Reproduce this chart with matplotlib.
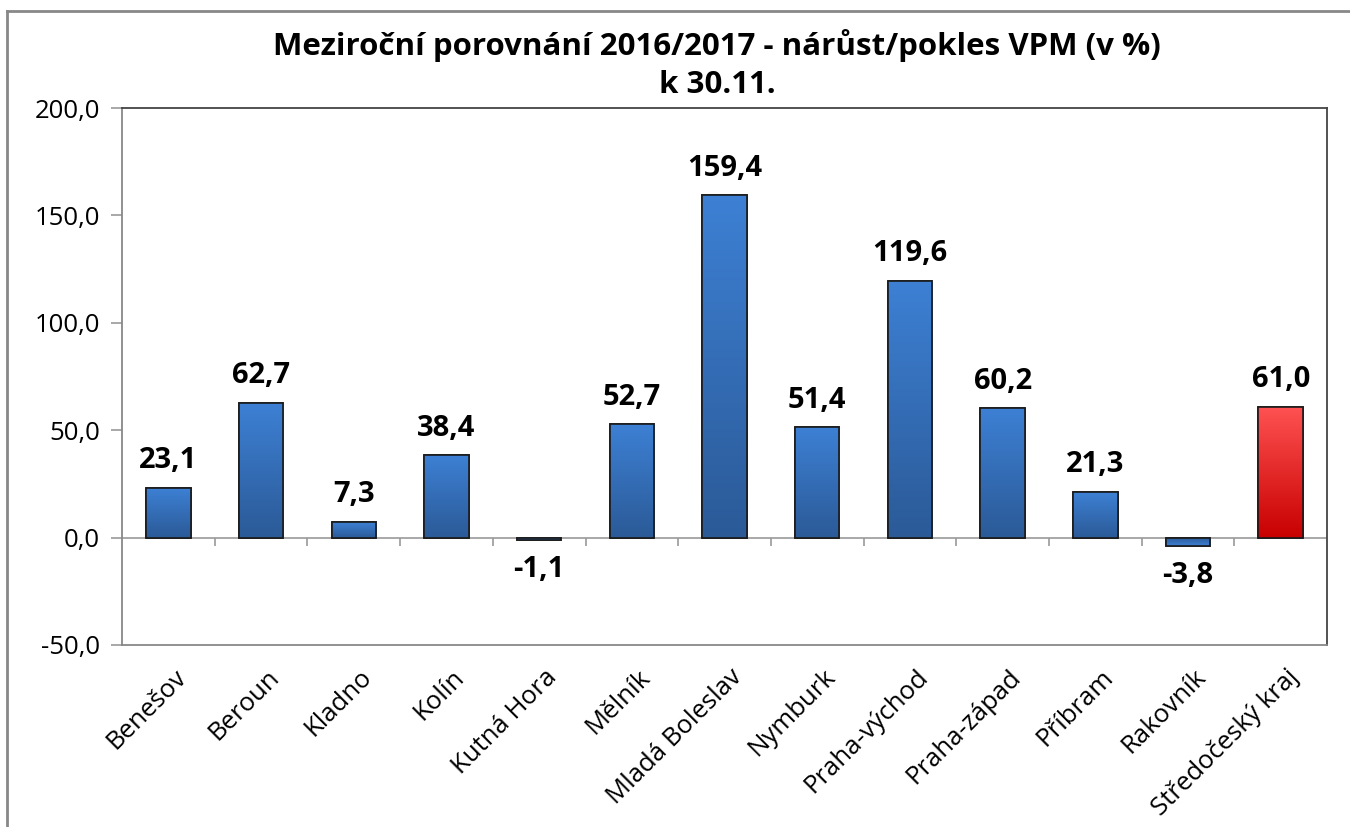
import numpy as np
import matplotlib.pyplot as plt
from matplotlib.lines import Line2D
from matplotlib.colors import LinearSegmentedColormap

plt.rcParams['font.family'] = ['Open Sans', 'DejaVu Sans']

# data
okresy = ['Benešov', 'Beroun', 'Kladno', 'Kolín', 'Kutná Hora', 'Mělník',
          'Mladá Boleslav', 'Nymburk', 'Praha-východ', 'Praha-západ',
          'Příbram', 'Rakovník', 'Středočeský kraj']
hodnoty = [23.1, 62.7, 7.3, 38.4, -1.1, 52.7, 159.4, 51.4, 119.6, 60.2,
           21.3, -3.8, 61.0]
y_ticks = [-50, 0, 50, 100, 150, 200]


def fmt(v):
    return f"{v:.1f}".replace('.', ',')


fig = plt.figure(figsize=(13.5, 8.27), dpi=100)
ax = fig.add_axes([0.0904, 0.2201, 0.8926, 0.6493])

x = np.arange(len(okresy))
barvy = ['#3a78c8'] * (len(okresy) - 1) + ['#e02020']
bars = ax.bar(x, hodnoty, width=0.48, color=barvy, edgecolor='#1a1a1a',
              linewidth=1.2, zorder=3)

# gradient vyplne sloupcu
grad = np.linspace(0, 1, 256).reshape(-1, 1)
cm_modra = LinearSegmentedColormap.from_list('m', ['#2b5a97', '#3d80d4'])
cm_cervena = LinearSegmentedColormap.from_list('c', ['#c80000', '#ff5252'])
for i, b in enumerate(bars):
    x0, y0 = b.get_x(), b.get_y()
    w, h = b.get_width(), b.get_height()
    cmap = cm_cervena if i == len(bars) - 1 else cm_modra
    g = grad if h >= 0 else grad[::-1]
    im = ax.imshow(g, extent=[x0, x0 + w, min(y0, y0 + h), max(y0, y0 + h)],
                   origin='lower', aspect='auto', cmap=cmap, zorder=3.5)
    im.set_clip_path(b)
    ax.add_patch(plt.Rectangle((x0, y0), w, h, fill=False,
                               edgecolor='#1a1a1a', linewidth=1.2, zorder=4))

# popisky hodnot
for xi, v in zip(x, hodnoty):
    if v >= 0:
        ax.annotate(fmt(v), (xi, v), xytext=(0, 9), textcoords='offset points',
                    ha='center', va='bottom', fontsize=21, fontweight='bold')
    else:
        ax.annotate(fmt(v), (xi, v), xytext=(0, -11), textcoords='offset points',
                    ha='center', va='top', fontsize=21, fontweight='bold')

ax.set_xlim(-0.5, len(okresy) - 0.5)
ax.set_ylim(-50, 200)

# nulova osa s carkami mezi kategoriemi
ax.axhline(0, color='#999999', linewidth=1.2, zorder=2)
hranice = np.arange(len(okresy) + 1) - 0.5
ax.vlines(hranice[1:-1], -3.8, 0, color='#999999', linewidth=1.2, zorder=2)

ax.set_yticks(y_ticks)
ax.set_yticklabels([fmt(v) for v in y_ticks], fontsize=18.5)
ax.tick_params(axis='y', length=8, color='#999999', width=1.2, pad=8)

ax.set_xticks(x)
ax.set_xticklabels([])
ax.tick_params(axis='x', length=0)
for xi, name in zip(x, okresy):
    ax.annotate(name, (xi, -50), xytext=(4, -14), textcoords='offset points',
                ha='right', va='top', rotation=45, rotation_mode='anchor',
                fontsize=18.5, annotation_clip=False)

for s in ['left', 'bottom']:
    ax.spines[s].set_color('#888888')
for s in ['top', 'right']:
    ax.spines[s].set_color('#444444')
for s in ax.spines.values():
    s.set_linewidth(1.3)

fig.text(0.531, 0.945, 'Meziroční porovnání 2016/2017 - nárůst/pokles VPM (v %)',
         ha='center', va='center', fontsize=22.5, fontweight='bold')
fig.text(0.531, 0.897, 'k 30.11.', ha='center', va='center',
         fontsize=22.5, fontweight='bold')

# ramecek grafu
fig.add_artist(Line2D([7 / 1350, 7 / 1350], [0, 1 - 11 / 827],
                      transform=fig.transFigure, color='#888888', linewidth=2))
fig.add_artist(Line2D([7 / 1350, 1], [1 - 11 / 827, 1 - 11 / 827],
                      transform=fig.transFigure, color='#888888', linewidth=2))

fig.savefig('out.png', dpi=100)
